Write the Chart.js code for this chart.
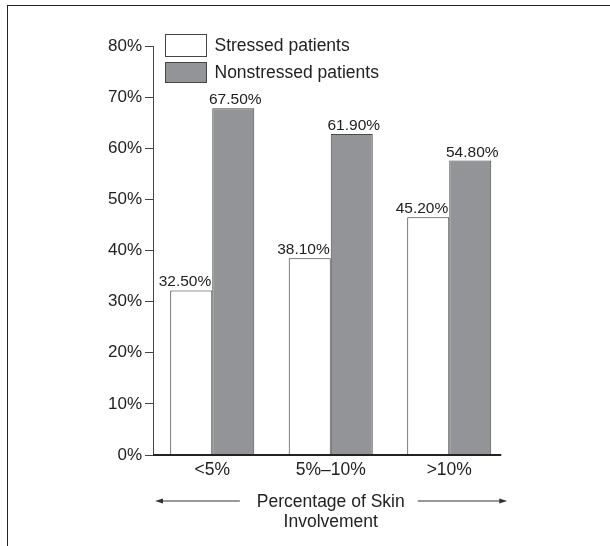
<!DOCTYPE html>
<html lang="en">
<head>
    <meta charset="UTF-8" />
    <title>Stress and Skin Involvement</title>
    <script src="https://cdn.jsdelivr.net/npm/chart.js"></script>
    <style>
        body { margin: 0; background: #fff; }
        #wrap { position: relative; width: 610px; height: 546px; }
        #frame {
            position: absolute; left: 7px; top: 5px; right: 0; bottom: 0;
            border-top: 1.5px solid #222; border-left: 1.5px solid #222;
            pointer-events: none;
        }
    </style>
</head>
<body>
    <div id="wrap">
        <canvas id="barChart" width="610" height="546"></canvas>
        <div id="frame"></div>
    </div>

    <script>
        // categories along the x axis
        const categories = ['<5%', '5%\u201310%', '>10%'];
        const seriesNames = ['Stressed patients', 'Nonstressed patients'];

        // bar heights as drawn in the figure
        const stressedValues = [32.2, 38.5, 46.5];
        const nonstressedValues = [67.8, 62.8, 57.6];

        // numbers printed above the bars
        const stressedLabels = ['32.50%', '38.10%', '45.20%'];
        const nonstressedLabels = ['67.50%', '61.90%', '54.80%'];

        const axisTitle = ['Percentage of Skin', 'Involvement'];

        const FONT = '"Liberation Sans", Arial, Helvetica, sans-serif';
        const INK = '#222';

        // legend drawn as two stacked boxes at the top left of the plot
        const legendPlugin = {
            id: 'boxLegend',
            afterDraw(chart) {
                const ctx = chart.ctx;
                const area = chart.chartArea;
                const x = area.left + 12.5;
                let y = area.top - 11.5;
                ctx.save();
                ctx.font = '17.5px ' + FONT;
                ctx.textBaseline = 'middle';
                chart.data.datasets.forEach((ds, i) => {
                    const h = i === 0 ? 22 : 20;
                    ctx.fillStyle = ds.backgroundColor;
                    ctx.fillRect(x, y, 41, h);
                    ctx.strokeStyle = '#444';
                    ctx.lineWidth = 1;
                    ctx.strokeRect(x, y, 41, h);
                    ctx.fillStyle = INK;
                    ctx.fillText(ds.label, x + 49, y + h / 2 + 1);
                    y += h + 6;
                });
                ctx.restore();
            }
        };

        // value labels, x axis base line and the two arrows round the title
        const decorPlugin = {
            id: 'decor',
            afterDatasetsDraw(chart) {
                const ctx = chart.ctx;
                ctx.save();
                ctx.font = '15.5px ' + FONT;
                ctx.fillStyle = INK;
                ctx.textBaseline = 'alphabetic';
                chart.data.datasets.forEach((ds, i) => {
                    const meta = chart.getDatasetMeta(i);
                    meta.data.forEach((bar, j) => {
                        const text = ds.printed[j];
                        if (i === 0) {
                            ctx.textAlign = 'right';
                            ctx.fillText(text, bar.x + bar.width / 2 - 1, bar.y - 4);
                        } else {
                            ctx.textAlign = 'center';
                            ctx.fillText(text, bar.x + 2, bar.y - 4);
                        }
                    });
                });

                // base line, ends a little after the last bar
                const area = chart.chartArea;
                const last = chart.getDatasetMeta(1).data[2];
                const endX = last.x + last.width / 2 + 10;
                ctx.strokeStyle = INK;
                ctx.lineWidth = 2;
                ctx.beginPath();
                ctx.moveTo(area.left, area.bottom);
                ctx.lineTo(endX, area.bottom);
                ctx.stroke();

                // arrows either side of the first title line
                ctx.font = '17.5px ' + FONT;
                const w = ctx.measureText(axisTitle[0]).width;
                const cx = (area.left + area.right) / 2 - 2;
                const ay = 501;
                const leftStart = area.left + 2;
                const rightEnd = endX + 6;
                ctx.lineWidth = 1;
                ctx.strokeStyle = '#333';
                ctx.fillStyle = '#333';
                ctx.beginPath();
                ctx.moveTo(leftStart + 6, ay);
                ctx.lineTo(cx - w / 2 - 15, ay);
                ctx.moveTo(cx + w / 2 + 15, ay);
                ctx.lineTo(rightEnd - 6, ay);
                ctx.stroke();
                ctx.beginPath();
                ctx.moveTo(leftStart, ay);
                ctx.lineTo(leftStart + 8, ay - 2.5);
                ctx.lineTo(leftStart + 8, ay + 2.5);
                ctx.closePath();
                ctx.moveTo(rightEnd, ay);
                ctx.lineTo(rightEnd - 8, ay - 2.5);
                ctx.lineTo(rightEnd - 8, ay + 2.5);
                ctx.closePath();
                ctx.fill();
                ctx.restore();
            }
        };

        const ctx = document.getElementById('barChart').getContext('2d');

        new Chart(ctx, {
            type: 'bar',
            data: {
                labels: categories,
                datasets: [{
                    label: seriesNames[0],
                    data: stressedValues,
                    printed: stressedLabels,
                    backgroundColor: '#ffffff',
                    borderColor: '#333333',
                    borderWidth: 1
                }, {
                    label: seriesNames[1],
                    data: nonstressedValues,
                    printed: nonstressedLabels,
                    backgroundColor: '#939497',
                    borderColor: '#4a4a4a',
                    borderWidth: 1
                }]
            },
            options: {
                responsive: false,
                animation: false,
                categoryPercentage: 0.709,
                barPercentage: 1.0,
                layout: {
                    padding: { left: 0, right: 101.5, top: 46, bottom: 0 }
                },
                plugins: {
                    legend: { display: false },
                    tooltip: { enabled: false }
                },
                scales: {
                    x: {
                        afterFit: (scale) => { scale.height = 91; },
                        grid: { display: false },
                        border: { display: false },
                        ticks: {
                            color: INK,
                            padding: -3,
                            font: { family: FONT, size: 17.5 }
                        },
                        title: {
                            display: true,
                            text: axisTitle,
                            color: INK,
                            padding: { top: 0, bottom: 14 },
                            font: { family: FONT, size: 17.5, lineHeight: '20px' }
                        }
                    },
                    y: {
                        min: 0,
                        max: 80,
                        afterFit: (scale) => { scale.width = 153; },
                        grid: {
                            drawOnChartArea: false,
                            drawTicks: true,
                            tickLength: 8,
                            color: '#444'
                        },
                        border: { display: true, color: '#444', width: 1 },
                        ticks: {
                            stepSize: 10,
                            padding: 3,
                            color: INK,
                            font: { family: FONT, size: 17 },
                            callback: (v) => v + '%'
                        }
                    }
                }
            },
            plugins: [legendPlugin, decorPlugin]
        });
    </script>
</body>
</html>
